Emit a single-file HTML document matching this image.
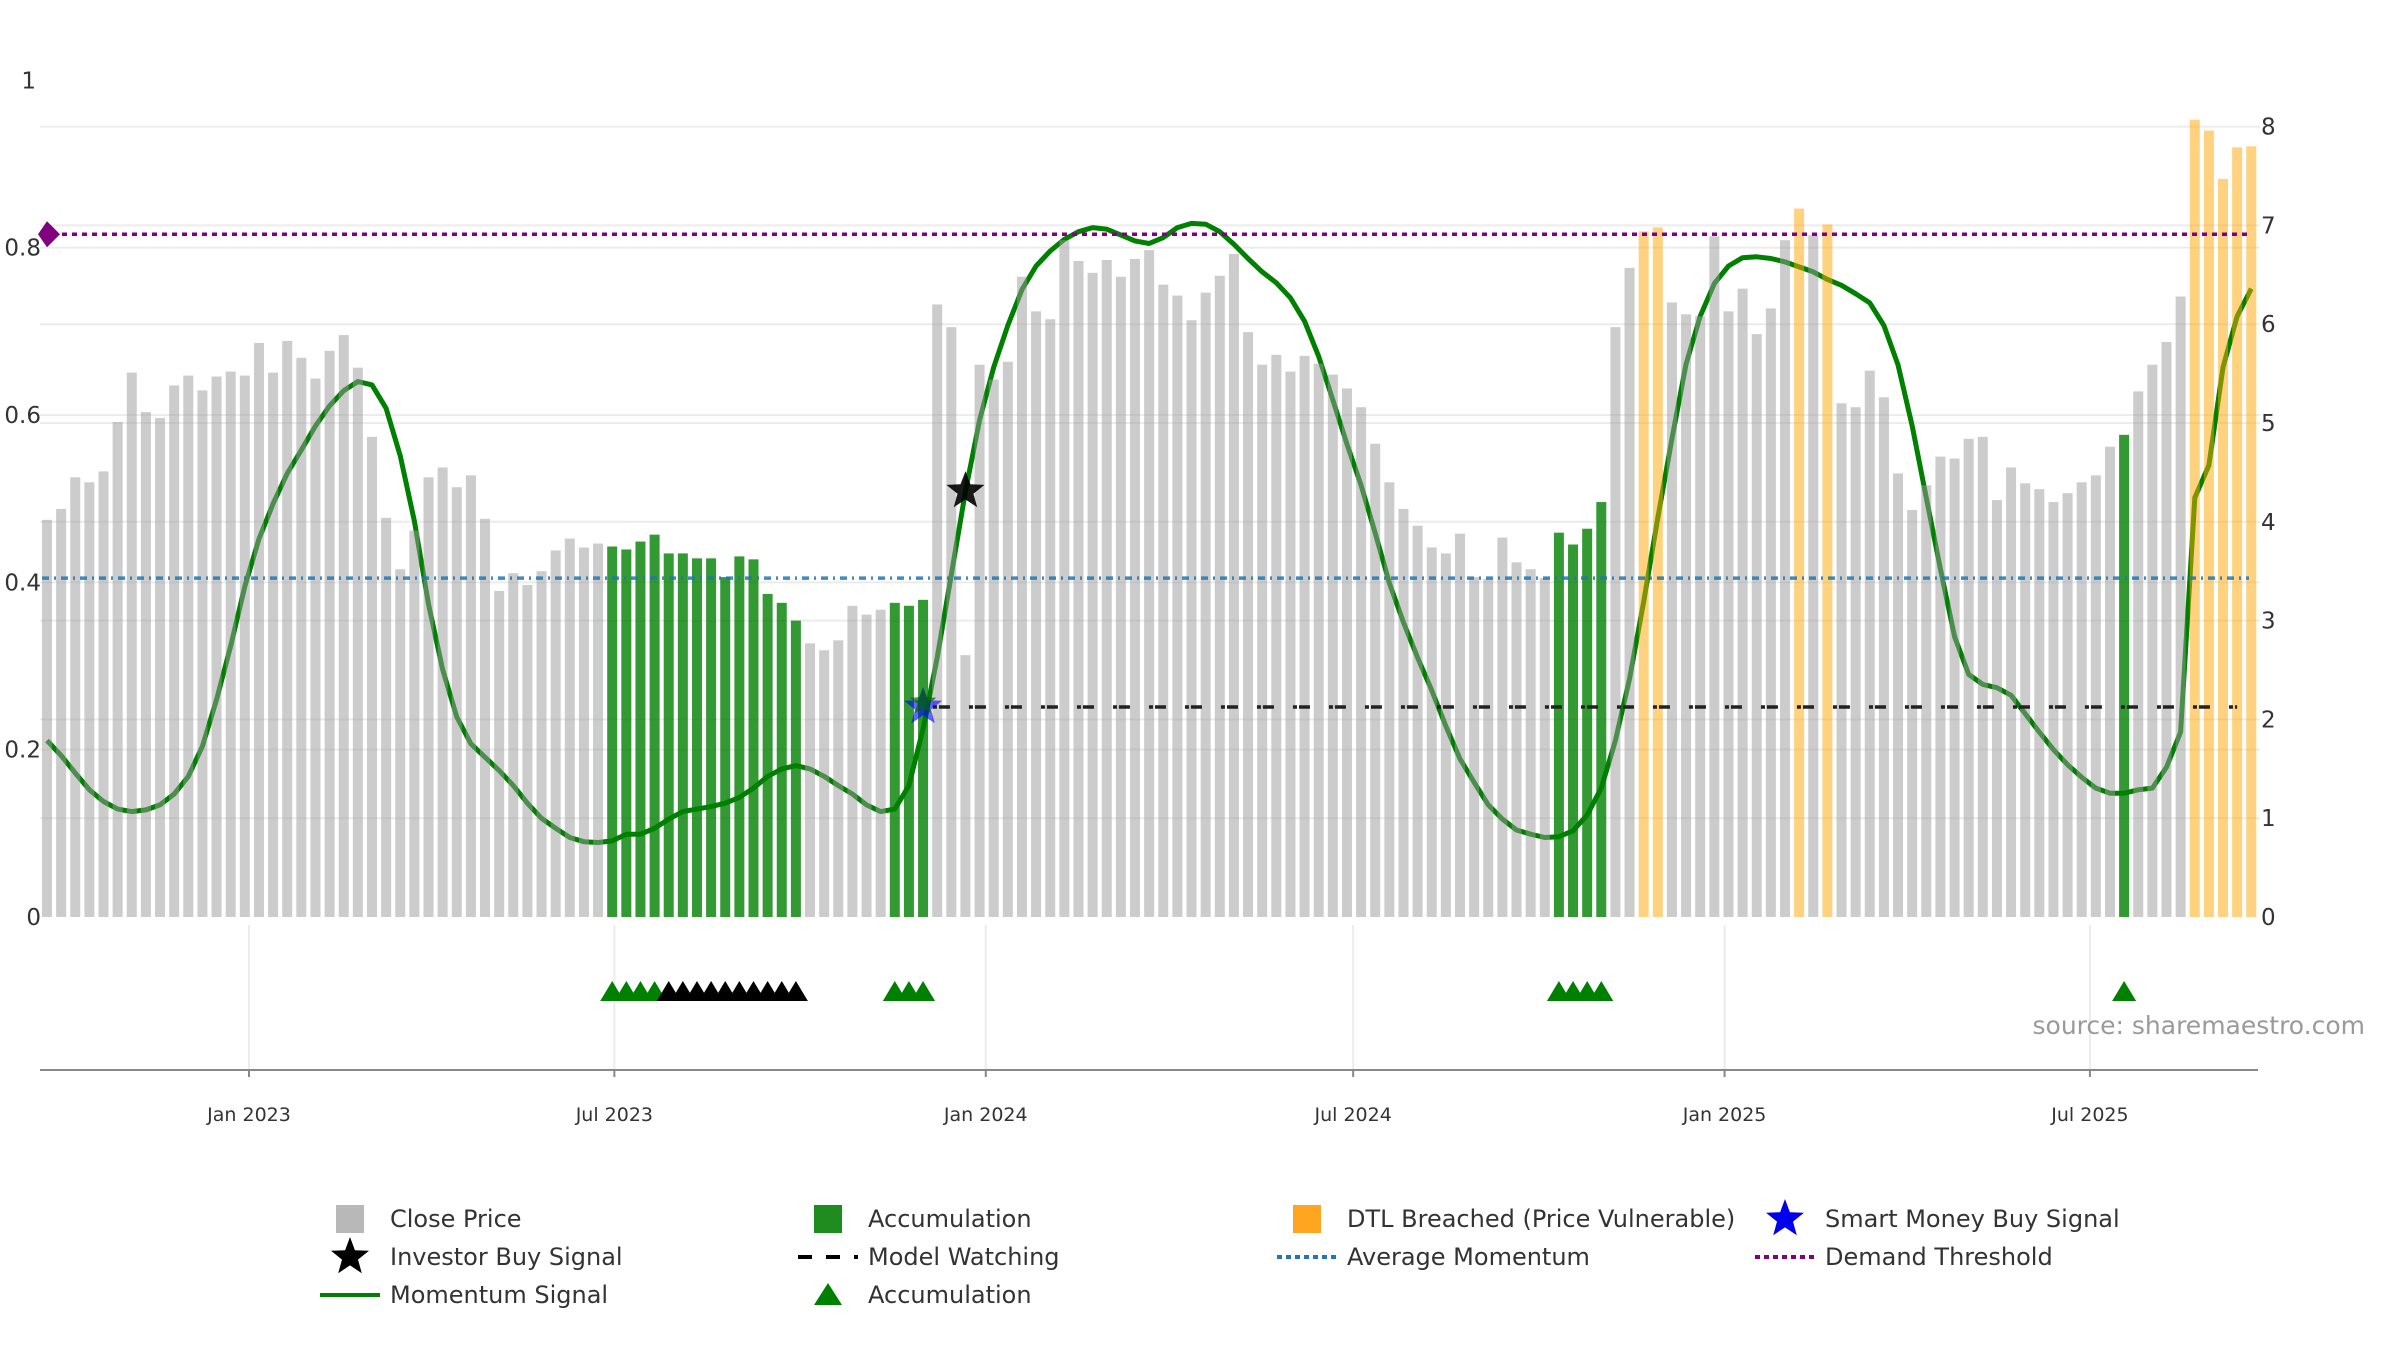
<!DOCTYPE html>
<html><head><meta charset="utf-8"><style>
html,body{margin:0;padding:0;background:#fff;}
svg{display:block;font-family:"DejaVu Sans","Liberation Sans",sans-serif;}
</style></head><body>
<svg id="chart" width="2400" height="1350" viewBox="0 0 2400 1350" xmlns="http://www.w3.org/2000/svg">
<g id="grid"></g>
<g id="lineLayer"></g>
<g id="bars"></g>
<g id="refs"></g>
<g id="marks"></g>
<g id="axes"></g>
<text x="2365" y="1034" font-size="25" fill="#9a9a9a" text-anchor="end">source: sharemaestro.com</text>
<g id="legend"></g>
</svg>
<script>
const prices = [4.02,4.13,4.45,4.40,4.51,5.01,5.51,5.11,5.05,5.38,5.48,5.33,5.47,5.52,5.48,5.81,5.51,5.83,5.66,5.45,5.73,5.89,5.56,4.86,4.04,3.52,3.91,4.45,4.55,4.35,4.47,4.03,3.30,3.48,3.36,3.50,3.71,3.83,3.74,3.78,3.75,3.72,3.80,3.87,3.68,3.68,3.63,3.63,3.44,3.65,3.62,3.27,3.18,3.00,2.77,2.70,2.80,3.15,3.06,3.11,3.18,3.15,3.21,6.20,5.97,2.65,5.59,5.44,5.62,6.48,6.13,6.05,6.85,6.64,6.52,6.65,6.48,6.66,6.75,6.40,6.29,6.04,6.32,6.49,6.71,5.92,5.59,5.69,5.52,5.68,5.60,5.49,5.35,5.16,4.79,4.40,4.13,3.96,3.74,3.68,3.88,3.44,3.42,3.84,3.59,3.52,3.43,3.89,3.77,3.93,4.20,5.97,6.57,6.94,6.98,6.22,6.10,6.08,6.89,6.13,6.36,5.90,6.16,6.85,7.17,6.90,7.01,5.20,5.16,5.53,5.26,4.49,4.12,4.37,4.66,4.64,4.84,4.86,4.22,4.55,4.39,4.33,4.20,4.29,4.40,4.47,4.76,4.88,5.32,5.59,5.82,6.28,8.07,7.96,7.47,7.79,7.80];
const momentum = [0.211,0.193,0.172,0.152,0.138,0.129,0.126,0.128,0.134,0.147,0.168,0.204,0.260,0.324,0.395,0.452,0.494,0.530,0.558,0.587,0.611,0.629,0.640,0.636,0.608,0.551,0.473,0.374,0.296,0.239,0.207,0.191,0.175,0.157,0.136,0.118,0.106,0.095,0.090,0.089,0.091,0.099,0.099,0.106,0.117,0.126,0.129,0.132,0.136,0.143,0.154,0.168,0.177,0.181,0.177,0.168,0.157,0.147,0.134,0.126,0.129,0.157,0.225,0.310,0.409,0.509,0.594,0.657,0.707,0.750,0.778,0.796,0.810,0.819,0.824,0.822,0.815,0.808,0.805,0.812,0.824,0.829,0.828,0.819,0.804,0.787,0.771,0.758,0.740,0.712,0.670,0.618,0.565,0.516,0.459,0.399,0.352,0.310,0.271,0.228,0.189,0.161,0.134,0.117,0.104,0.099,0.095,0.096,0.103,0.122,0.154,0.211,0.285,0.377,0.477,0.572,0.661,0.718,0.757,0.778,0.788,0.789,0.787,0.783,0.777,0.771,0.762,0.755,0.745,0.734,0.707,0.660,0.587,0.501,0.416,0.335,0.290,0.278,0.274,0.265,0.243,0.221,0.200,0.182,0.167,0.154,0.148,0.148,0.152,0.154,0.179,0.221,0.501,0.540,0.657,0.718,0.751];
const accumIdx = [40,41,42,43,44,45,46,47,48,49,50,51,52,53,60,61,62,107,108,109,110,147];
const accumTriGreen = [40,41,42,43,60,61,62,107,108,109,110,147];
const accumTriBlack = [44,45,46,47,48,49,50,51,52,53];
const dtlIdx = [113,114,124,126,152,153,154,155,156];
const investorBuyIdx = [65];
const smartMoneyIdx = [62];
const avgMomentum = 0.405;
const demandThreshold = 0.816;
const modelWatching = 0.251;
const modelWatchStart = 62.7, modelWatchEnd = 155;
const leftTicks = [0,0.2,0.4,0.6,0.8,1];
const leftTickLabels = ["0","0.2","0.4","0.6","0.8","1"];
const rightTicks = [0,1,2,3,4,5,6,7,8];
const dateTicks = ["2023-01-01","2023-07-01","2024-01-01","2024-07-01","2025-01-01","2025-07-01"];
const dateTickLabels = ["Jan 2023","Jul 2023","Jan 2024","Jul 2024","Jan 2025","Jul 2025"];

const NS="http://www.w3.org/2000/svg";
const Y0=917, LPX=836.7, RPX=98.8;
const yL=v=>Y0-v*LPX, yR=v=>Y0-v*RPX;
const x0Date=Date.UTC(2023,0,1), pxPerDay=14.13/7, xJan23=249;
const xDate=s=>{const d=new Date(s+"T00:00:00Z").getTime();return xJan23+(d-x0Date)/86400000*pxPerDay;};
const xI=i=>47+14.13*i;
function mk(tag,attrs,parent){const e=document.createElementNS(NS,tag);for(const k in attrs)e.setAttribute(k,attrs[k]);parent.appendChild(e);return e;}
const G=id=>document.getElementById(id);

// grid
const grid=G('grid');
rightTicks.forEach(v=>{if(v===0)return;const l=mk('line',{x1:40,x2:2260,y1:yR(v),y2:yR(v),stroke:'#ececec','stroke-width':2},grid);

});
leftTicks.forEach(v=>{if(v===0||v===1)return;const l=mk('line',{x1:40,x2:2260,y1:yL(v),y2:yL(v),stroke:'#ececec','stroke-width':2},grid);

});
dateTicks.forEach(d=>{const l=mk('line',{x1:xDate(d),x2:xDate(d),y1:925,y2:1070,stroke:'#ececec','stroke-width':2},grid);

});

// momentum line (under bars)
const pts=momentum.map((v,i)=>xI(i).toFixed(1)+','+yL(v).toFixed(1)).join(' ');
const ml=mk('polyline',{points:pts,fill:'none',stroke:'#008000','stroke-width':5,'stroke-linejoin':'round'},G('lineLayer'));



// bars
const bars=G('bars');
prices.forEach((v,i)=>{let fill='#999999',op=0.5,name='close-price-bar';
 if(accumIdx.includes(i)){fill='#008000';op=0.8;name='accumulation-bar';}
 if(dtlIdx.includes(i)){fill='#FFA500';op=0.5;name='dtl-breached-bar';}
 const r=mk('rect',{x:xI(i)-5,y:yR(v),width:10,height:Y0-yR(v),fill:fill,'fill-opacity':op},bars);
 
 });

// reference lines
const refs=G('refs');
let l=mk('line',{x1:42,x2:2249,y1:yL(demandThreshold),y2:yL(demandThreshold),stroke:'#800080','stroke-width':3.5,'stroke-dasharray':'5,5'},refs);


const dy=yL(demandThreshold);
let dm=mk('polygon',{points:`${47},${dy-13} ${60},${dy} ${47},${dy+13} ${38},${dy}`,fill:'#800080'},refs);


l=mk('line',{x1:42,x2:2249,y1:yL(avgMomentum),y2:yL(avgMomentum),stroke:'#1f77b4','stroke-width':3.5,'stroke-dasharray':'7,5,2,5','stroke-opacity':0.85},refs);


l=mk('line',{x1:xI(modelWatchStart),x2:xI(modelWatchEnd),y1:yL(modelWatching),y2:yL(modelWatching),stroke:'#222','stroke-width':3.5,'stroke-dasharray':'4,2,11,19'},refs);



// markers
const marks=G('marks');
function star(cx,cy,R,fill,parent,op){const p=[];for(let k=0;k<10;k++){const r=k%2?R*0.42:R;const a=-Math.PI/2+k*Math.PI/5;p.push((cx+r*Math.cos(a)).toFixed(1)+','+(cy+r*Math.sin(a)).toFixed(1));}
 return mk('polygon',{points:p.join(' '),fill:fill,'fill-opacity':op||1},parent);}
smartMoneyIdx.forEach(i=>{const s=star(xI(i),yL(modelWatching),20,'#0000ff',marks,0.6);
 
 
 const s2=star(xI(i),yL(modelWatching)-5,14,'#006400',marks,0.7);
 
 });
investorBuyIdx.forEach(i=>{const s=star(xI(i),yL(momentum[i]),20,'#000',marks,0.9);
 
 });
function tri(i,color){const cx=xI(i);const t=mk('polygon',{points:`${cx-12},1001 ${cx},981 ${cx+12},1001`,fill:color},marks);return t;}
accumTriGreen.forEach(i=>{const t=tri(i,'#008000');
 
 });
accumTriBlack.forEach(i=>{const t=tri(i,'#000');
 
 });

// axes
const axes=G('axes');
let ax=mk('line',{x1:40,x2:2258,y1:1070,y2:1070,stroke:'#888','stroke-width':2},axes);


dateTicks.forEach((d,k)=>{const x=xDate(d);
 const tk=mk('line',{x1:x,x2:x,y1:1070,y2:1077,stroke:'#888','stroke-width':2},axes);
 
 
 const t=mk('text',{x:x,y:1121,'font-size':19,fill:'#333','text-anchor':'middle'},axes);t.textContent=dateTickLabels[k];
 
 });
leftTicks.forEach((v,k)=>{const t=mk('text',{x:k===5?36:41,y:yL(v)+8,'font-size':23,fill:'#333','text-anchor':'end'},axes);t.textContent=leftTickLabels[k];
 
 });
rightTicks.forEach(v=>{const t=mk('text',{x:2261,y:yR(v)+8,'font-size':23,fill:'#333'},axes);t.textContent=String(v);
 
 });

// legend
const lg=G('legend');
const rows=[1219,1257,1295], cols=[350,828,1307,1785];
function ltext(c,r,s){const t=mk('text',{x:cols[c]+40,y:rows[r]+8,'font-size':24,fill:'#333'},lg);t.textContent=s;
 
 }
function lsq(c,r,col,name){const s=mk('rect',{x:cols[c]-14,y:rows[r]-14,width:28,height:28,fill:col},lg);
 
 }
function lline(c,r,col,dash,name){const a={x1:cols[c]-30,x2:cols[c]+30,y1:rows[r],y2:rows[r],stroke:col,'stroke-width':4};if(dash)a['stroke-dasharray']=dash;const s=mk('line',a,lg);
 
 }
lsq(0,0,'#b8b8b8','legend-close-price-swatch');ltext(0,0,'Close Price');
lsq(1,0,'#1e8c1e','legend-accumulation-swatch');ltext(1,0,'Accumulation');
lsq(2,0,'#ffa51f','legend-dtl-swatch');ltext(2,0,'DTL Breached (Price Vulnerable)');
let ls=star(cols[3],rows[0],20,'#0000ee',lg);


ltext(3,0,'Smart Money Buy Signal');
ls=star(cols[0],rows[1],20,'#000',lg);


ltext(0,1,'Investor Buy Signal');
lline(1,1,'#000','14,14','legend-model-watching-line');ltext(1,1,'Model Watching');
lline(2,1,'#1f77b4','5,4','legend-average-momentum-line');ltext(2,1,'Average Momentum');
lline(3,1,'#800080','5,4','legend-demand-threshold-line');ltext(3,1,'Demand Threshold');
lline(0,2,'#008000',null,'legend-momentum-line');ltext(0,2,'Momentum Signal');
const lt=mk('polygon',{points:`${cols[1]-14},${rows[2]+10} ${cols[1]},${rows[2]-12} ${cols[1]+14},${rows[2]+10}`,fill:'#008000'},lg);


ltext(1,2,'Accumulation');
</script>
</body></html>
